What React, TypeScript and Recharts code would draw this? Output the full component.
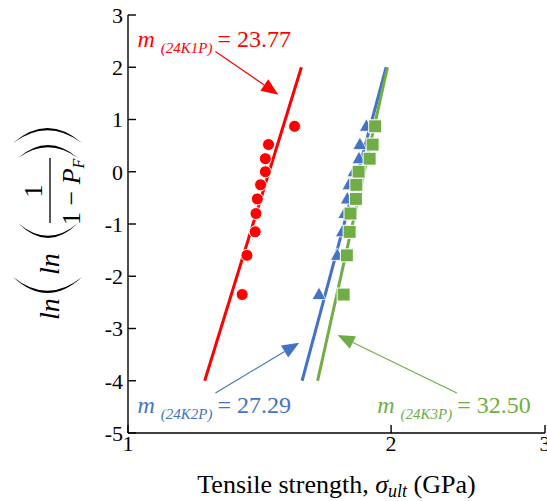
import {
  ComposedChart,
  Line,
  Scatter,
  XAxis,
  YAxis,
  ReferenceLine,
  ReferenceDot,
} from "recharts";

const xTicks = [1, 2, 3];
const yTicks = [-5, -4, -3, -2, -1, 0, 1, 2, 3];

// ln(ln(1/(1-Pf))) for the ten ranked specimens
const weibullY = [0.87, 0.52, 0.25, 0.0, -0.25, -0.52, -0.8, -1.15, -1.6, -2.35];

const k1pStrength = [1.551, 1.448, 1.436, 1.436, 1.418, 1.406, 1.401, 1.398, 1.368, 1.351];
const k2pStrength = [1.874, 1.842, 1.838, 1.814, 1.79, 1.782, 1.77, 1.759, 1.736, 1.654];
const k3pStrength = [1.918, 1.905, 1.89, 1.836, 1.825, 1.823, 1.797, 1.793, 1.78, 1.765];

// fitted lines, end points
const k1pFitX = [1.224, 1.579];
const k2pFitX = [1.582, 1.974];
const k3pFitX = [1.648, 1.981];
const fitY = [-4, 2];

const red = "#FF0000";
const blue = "#4472C4";
const green = "#70AD47";

const toPoints = (xs: number[], ys: number[]) => xs.map((x, i) => ({ x, y: ys[i] }));

const k1pData = toPoints(k1pStrength, weibullY);
const k2pData = toPoints(k2pStrength, weibullY);
const k3pData = toPoints(k3pStrength, weibullY);

const fontFamily = "'Liberation Serif', 'Times New Roman', serif";

const Circle = (p: any) => (
  <circle cx={p.cx} cy={p.cy} r={6} fill={red} stroke="#fff" strokeWidth={1} />
);
const Triangle = (p: any) => (
  <polygon
    points={`${p.cx},${p.cy - 7.5} ${p.cx - 7},${p.cy + 5} ${p.cx + 7},${p.cy + 5}`}
    fill={blue}
    stroke="#fff"
    strokeWidth={0.8}
  />
);
const Square = (p: any) => (
  <rect x={p.cx - 6.5} y={p.cy - 6.5} width={13} height={13} fill={green} stroke="#fff" strokeWidth={1} />
);

const arrow = (color: string) => (p: any) => {
  const { x1, y1, x2, y2 } = p;
  const a = Math.atan2(y2 - y1, x2 - x1);
  const L = 17;
  const W = 7;
  const bx = x2 - L * Math.cos(a);
  const by = y2 - L * Math.sin(a);
  const pts = `${x2},${y2} ${bx + W * Math.sin(a)},${by - W * Math.cos(a)} ${bx - W * Math.sin(a)},${by + W * Math.cos(a)}`;
  return (
    <g>
      <line x1={x1} y1={y1} x2={bx} y2={by} stroke={color} strokeWidth={1.2} />
      <polygon points={pts} fill={color} />
    </g>
  );
};

const mLabel = (color: string, sub: string, value: string) => (p: any) => (
  <text x={p.cx} y={p.cy} fill={color} fontFamily={fontFamily} fontSize={24}>
    <tspan fontStyle="italic">m</tspan>
    <tspan fontStyle="italic" fontSize={15} dx={6} dy={6}>
      {sub}
    </tspan>
    <tspan dx={5} dy={-6}>
      {"= " + value}
    </tspan>
  </text>
);

// paren drawn as a crescent in the rotated label's local frame
const paren = (tip: number, w: number, top: number, bottom: number, s: number) => {
  const mid = (top + bottom) / 2;
  const outer = 2 * (tip - s * w) - tip;
  const inner = 2 * (tip - s * (w - 2.2)) - tip;
  return `M${tip},${top} Q${outer},${mid} ${tip},${bottom} Q${inner},${mid} ${tip},${top} Z`;
};

const YLabel = (props: any) => {
  const vb = props.viewBox || { x: 0, y: 15, width: 128, height: 418 };
  const cx = vb.x + 47;
  const cy = vb.y + vb.height / 2;
  return (
    <g transform={`translate(${cx},${cy}) rotate(-90)`} fontFamily={fontFamily} fill="#000">
      <text x={-96} y={12} fontSize={28} fontStyle="italic">ln</text>
      <path d={paren(-53, 16, -34, 35, 1)} />
      <text x={-51} y={12} fontSize={28} fontStyle="italic">ln</text>
      <path d={paren(1, 15, -29, 31, 1)} />
      <text x={33} y={-5} fontSize={26} textAnchor="middle">1</text>
      <line x1={1} x2={66} y1={3} y2={3} stroke="#000" strokeWidth={1.3} />
      <text x={-1} y={33} fontSize={26}>
        {"1 \u2212 "}
        <tspan fontStyle="italic">P</tspan>
        <tspan fontStyle="italic" fontSize={16} dy={4}>F</tspan>
      </text>
      <path d={paren(66, 13, -29, 31, -1)} />
      <path d={paren(81, 15, -34, 35, -1)} />
    </g>
  );
};

const XLabel = (props: any) => {
  const vb = props.viewBox || { x: 128, y: 433, width: 417, height: 68 };
  return (
    <text
      x={vb.x + vb.width / 2}
      y={vb.y + 60}
      textAnchor="middle"
      fontFamily={fontFamily}
      fontSize={26}
      fill="#000"
    >
      {"Tensile strength, "}
      <tspan fontStyle="italic">{"\u03C3"}</tspan>
      <tspan fontStyle="italic" fontSize={18} dy={4}>ult</tspan>
      <tspan dy={-4}>{" (GPa)"}</tspan>
    </text>
  );
};

const tickStyle = { fill: "#000", fontSize: 22, fontFamily };

export default function App() {
  return (
    <div style={{ position: "absolute", left: 0, top: 0, fontFamily }}>
      <ComposedChart width={547} height={501} margin={{ top: 15, right: 2, bottom: 0, left: 0 }}>
        <XAxis
          xAxisId="b"
          dataKey="x"
          type="number"
          scale="log"
          domain={[1, 3]}
          ticks={xTicks}
          interval={0}
          allowDataOverflow
          height={68}
          tickSize={-8}
          tickMargin={10}
          stroke="#000"
          strokeWidth={1.4}
          tick={tickStyle}
          label={{ content: (p: any) => <XLabel {...p} /> }}
        />
        <XAxis
          xAxisId="t"
          orientation="top"
          dataKey="x"
          type="number"
          scale="log"
          domain={[1, 3]}
          ticks={xTicks}
          interval={0}
          allowDataOverflow
          height={0}
          tickSize={-8}
          stroke="#000"
          strokeWidth={1.4}
          tickFormatter={() => ""}
        />
        <YAxis
          yAxisId="l"
          dataKey="y"
          type="number"
          domain={[-5, 3]}
          ticks={yTicks}
          interval={0}
          allowDataOverflow
          width={128}
          tickSize={-8}
          tickMargin={13}
          stroke="#000"
          strokeWidth={1.4}
          tick={tickStyle}
          label={{ content: (p: any) => <YLabel {...p} /> }}
        />
        <YAxis
          yAxisId="r"
          orientation="right"
          dataKey="y"
          type="number"
          domain={[-5, 3]}
          ticks={yTicks}
          interval={0}
          allowDataOverflow
          width={0}
          tickSize={-8}
          stroke="#000"
          strokeWidth={1.4}
          tickFormatter={() => ""}
        />

        <Line
          xAxisId="b"
          yAxisId="l"
          data={toPoints(k1pFitX, fitY)}
          dataKey="y"
          stroke={red}
          strokeWidth={3}
          dot={false}
          isAnimationActive={false}
        />
        <Scatter xAxisId="b" yAxisId="l" data={k1pData} dataKey="y" shape={Circle} isAnimationActive={false} />
        <Line
          xAxisId="b"
          yAxisId="l"
          data={toPoints(k2pFitX, fitY)}
          dataKey="y"
          stroke={blue}
          strokeWidth={3}
          dot={false}
          isAnimationActive={false}
        />
        <Scatter xAxisId="b" yAxisId="l" data={k2pData} dataKey="y" shape={Triangle} isAnimationActive={false} />
        <Line
          xAxisId="b"
          yAxisId="l"
          data={toPoints(k3pFitX, fitY)}
          dataKey="y"
          stroke={green}
          strokeWidth={3}
          dot={false}
          isAnimationActive={false}
        />
        <Scatter xAxisId="b" yAxisId="l" data={k3pData} dataKey="y" shape={Square} isAnimationActive={false} />

        <ReferenceLine
          xAxisId="b"
          yAxisId="l"
          segment={[{ x: 1.259, y: 2.3 }, { x: 1.486, y: 1.476 }]}
          shape={arrow(red)}
        />
        <ReferenceLine
          xAxisId="b"
          yAxisId="l"
          segment={[{ x: 1.259, y: -4.233 }, { x: 1.57, y: -3.274 }]}
          shape={arrow(blue)}
        />
        <ReferenceLine
          xAxisId="b"
          yAxisId="l"
          segment={[{ x: 2.378, y: -4.233 }, { x: 1.737, y: -3.126 }]}
          shape={arrow(green)}
        />
        <ReferenceDot xAxisId="b" yAxisId="l" x={1.0253} y={2.396} shape={mLabel(red, "(24K1P)", "23.77")} />
        <ReferenceDot xAxisId="b" yAxisId="l" x={1.0253} y={-4.622} shape={mLabel(blue, "(24K2P)", "27.29")} />
        <ReferenceDot xAxisId="b" yAxisId="l" x={1.928} y={-4.622} shape={mLabel(green, "(24K3P)", "32.50")} />
      </ComposedChart>
    </div>
  );
}
